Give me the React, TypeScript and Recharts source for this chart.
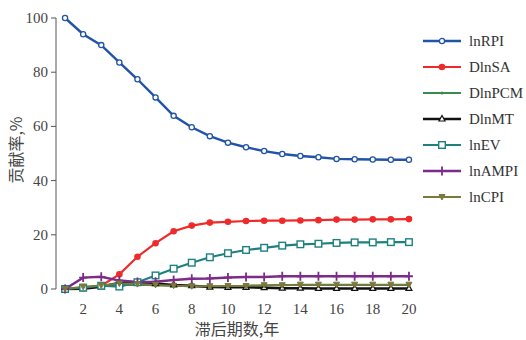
import { LineChart, Line, XAxis, YAxis } from 'recharts';

const years = [1, 2, 3, 4, 5, 6, 7, 8, 9, 10, 11, 12, 13, 14, 15, 16, 17, 18, 19, 20];
const lnRPI = [100, 94.0, 90.0, 83.6, 77.4, 70.7, 63.9, 59.7, 56.4, 54.0, 52.3, 50.9, 49.8, 49.1, 48.6, 48.0, 47.9, 47.8, 47.7, 47.7];
const DlnSA = [0, 0.3, 1.2, 5.4, 11.9, 16.9, 21.3, 23.4, 24.5, 24.8, 25.1, 25.2, 25.2, 25.3, 25.4, 25.6, 25.6, 25.7, 25.7, 25.8];
const DlnPCM = [0, 0.5, 1.0, 1.5, 1.6, 1.4, 1.2, 1.0, 0.9, 0.9, 1.2, 1.3, 1.5, 1.5, 1.5, 1.5, 1.5, 1.5, 1.5, 1.5];
const DlnMT = [0, 0.1, 0.8, 2.3, 2.3, 2.0, 1.5, 1.2, 0.7, 0.6, 0.6, 0.5, 0.3, 0.3, 0.2, 0.2, 0.2, 0.2, 0.2, 0.2];
const lnEV = [0, 0.5, 1.2, 0.9, 2.5, 5.0, 7.5, 9.7, 11.7, 13.2, 14.4, 15.2, 16.0, 16.5, 16.7, 17.0, 17.2, 17.2, 17.3, 17.3];
const lnAMPI = [0, 4.2, 4.5, 3.1, 2.6, 2.7, 3.3, 3.8, 3.9, 4.2, 4.4, 4.4, 4.7, 4.7, 4.7, 4.7, 4.7, 4.7, 4.7, 4.7];
const lnCPI = [0, 0.8, 1.3, 2.0, 1.8, 1.5, 1.2, 1.0, 1.0, 1.1, 1.1, 1.4, 1.4, 1.6, 1.6, 1.6, 1.6, 1.6, 1.6, 1.6];

const minorTicks = [0.5, 1.5, 2.5, 3.5, 4.5, 5.5, 6.5, 7.5, 8.5, 9.5, 10.5, 11.5, 12.5, 13.5, 14.5, 15.5, 16.5, 17.5, 18.5, 19.5, 20.5];
const labelTicks = [2, 4, 6, 8, 10, 12, 14, 16, 18, 20];
const yTicks = [0, 20, 40, 60, 80, 100];

const data = years.map((x, i) => ({
  x,
  lnRPI: lnRPI[i],
  DlnSA: DlnSA[i],
  DlnPCM: DlnPCM[i],
  DlnMT: DlnMT[i],
  lnEV: lnEV[i],
  lnAMPI: lnAMPI[i],
  lnCPI: lnCPI[i],
}));

const FONT = '"Liberation Serif", "DejaVu Serif", serif';
const CJK = '"Noto Sans CJK SC", sans-serif';
const AXIS = '#555';
const TEXT = '#444';

type Marker = 'openCircle' | 'dot' | 'smallDot' | 'triangle' | 'openSquare' | 'plus' | 'star';

const SERIES: { key: string; color: string; marker: Marker; width: number }[] = [
  { key: 'lnRPI', color: '#2153a8', marker: 'openCircle', width: 2.4 },
  { key: 'DlnSA', color: '#ee2a2a', marker: 'dot', width: 2.2 },
  { key: 'DlnPCM', color: '#3d8a4e', marker: 'smallDot', width: 2 },
  { key: 'DlnMT', color: '#111111', marker: 'triangle', width: 2.5 },
  { key: 'lnEV', color: '#1f8080', marker: 'openSquare', width: 2.2 },
  { key: 'lnAMPI', color: '#7d2b8b', marker: 'plus', width: 2.5 },
  { key: 'lnCPI', color: '#7a7a3c', marker: 'star', width: 2 },
];

function drawMarker(m: Marker, cx: number, cy: number, color: string) {
  switch (m) {
    case 'openCircle':
      return <circle cx={cx} cy={cy} r={2.6} fill="#fff" stroke={color} strokeWidth={1.3} />;
    case 'dot':
      return <circle cx={cx} cy={cy} r={3.3} fill={color} stroke="none" />;
    case 'smallDot':
      return <circle cx={cx} cy={cy} r={1.6} fill={color} stroke="none" />;
    case 'triangle':
      return <path d={`M${cx},${cy - 3.5}L${cx + 3},${cy + 2}L${cx - 3},${cy + 2}Z`} fill="#fff" stroke={color} strokeWidth={1.2} />;
    case 'openSquare':
      return <rect x={cx - 3.3} y={cy - 3.3} width={6.6} height={6.6} fill="#fff" stroke={color} strokeWidth={1.4} />;
    case 'plus':
      return <path d={`M${cx - 4},${cy}H${cx + 4}M${cx},${cy - 4.5}V${cy + 4.5}`} stroke={color} strokeWidth={1.8} fill="none" />;
    case 'star':
      return <path d={`M${cx - 3},${cy - 2.5}L${cx + 3},${cy - 2.5}L${cx},${cy + 3}Z`} fill={color} stroke={color} strokeWidth={1} />;
  }
}

function makeDot(m: Marker, color: string) {
  return (props: any) => {
    const { cx, cy, index } = props;
    if (cx == null || cy == null) return <g key={index} />;
    return <g key={index}>{drawMarker(m, cx, cy, color)}</g>;
  };
}

function XTick({ x, y, payload }: any) {
  return (
    <text x={x} y={y + 17} textAnchor="middle" fontFamily={FONT} fontSize={15} fill={TEXT}>
      {payload.value}
    </text>
  );
}

function YTick({ x, y, payload }: any) {
  return (
    <text x={x - 1} y={y + 5} textAnchor="end" fontFamily={FONT} fontSize={15} fill={TEXT}>
      {payload.value}
    </text>
  );
}

function ChartLegend() {
  return (
    <div style={{ position: 'absolute', left: 421, top: 28, fontFamily: FONT, fontSize: 15, color: '#333' }}>
      {SERIES.map((s) => (
        <div key={s.key} style={{ display: 'flex', alignItems: 'center', height: 26 }}>
          <svg width={42} height={12} style={{ marginRight: 6 }}>
            <line x1={2} y1={6} x2={40} y2={6} stroke={s.color} strokeWidth={s.width} />
            {drawMarker(s.marker, 21, 6, s.color)}
          </svg>
          <span>{s.key}</span>
        </div>
      ))}
    </div>
  );
}

export default function App() {
  return (
    <div style={{ position: 'absolute', left: 0, top: 0, width: 526, height: 340, background: '#fff' }}>
      <LineChart width={526} height={340} data={data} margin={{ top: 18, right: 108, left: 0, bottom: 0 }}>
        <XAxis
          xAxisId="m"
          dataKey="x"
          type="number"
          domain={[0.5, 20.5]}
          ticks={minorTicks}
          tickFormatter={() => ''}
          height={0}
          tickSize={5}
          stroke={AXIS}
          interval={0}
        />
        <XAxis
          xAxisId="lab"
          dataKey="x"
          type="number"
          domain={[0.5, 20.5]}
          ticks={labelTicks}
          interval={0}
          height={51}
          axisLine={false}
          tickLine={false}
          tick={<XTick />}
        />
        <YAxis domain={[0, 100]} ticks={yTicks} width={56} tickSize={5} stroke={AXIS} tick={<YTick />} />
        {SERIES.map((s) => (
          <Line
            key={s.key}
            xAxisId="m"
            dataKey={s.key}
            stroke={s.color}
            strokeWidth={s.width}
            dot={makeDot(s.marker, s.color)}
            activeDot={false}
            isAnimationActive={false}
            type="linear"
          />
        ))}
      </LineChart>
      <ChartLegend />
      <div
        style={{
          position: 'absolute',
          left: 237,
          top: 328,
          transform: 'translate(-50%, -50%)',
          fontFamily: CJK,
          fontSize: 16,
          color: TEXT,
          whiteSpace: 'nowrap',
        }}
      >
        滞后期数,年
      </div>
      <div
        style={{
          position: 'absolute',
          left: 15,
          top: 150,
          transform: 'translate(-50%, -50%) rotate(-90deg)',
          fontFamily: CJK,
          fontSize: 16,
          color: TEXT,
          whiteSpace: 'nowrap',
        }}
      >
        贡献率,%
      </div>
    </div>
  );
}
